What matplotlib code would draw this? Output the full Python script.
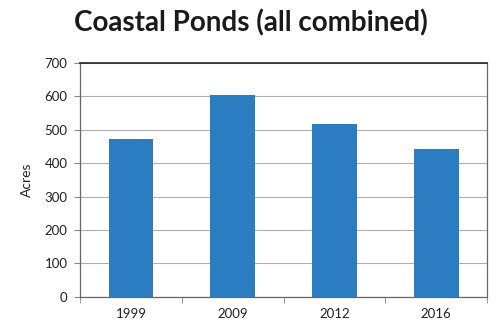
import matplotlib
matplotlib.use("Agg")
import matplotlib.pyplot as plt
import numpy as np

categories = ["1999", "2009", "2012", "2016"]
acres = [472, 605, 518, 441]
yticks = [0, 100, 200, 300, 400, 500, 600, 700]

plt.rcParams['font.family'] = ['Lato', 'DejaVu Sans']

fig = plt.figure(figsize=(4.97, 3.31), dpi=100)
ax = fig.add_axes([0.161, 0.103, 0.819, 0.707])

x = np.arange(len(categories))
ax.bar(x, acres, width=0.44, color="#2b7cc0", zorder=3)
ax.set_xlim(-0.5, len(categories) - 0.5)
ax.set_ylim(0, 700)
ax.set_yticks(yticks)
ax.set_xticks(x)
ax.set_xticklabels(categories, fontsize=9.5, color="#222222")
ax.set_xticks(np.arange(-0.5, len(categories)), minor=True)
ax.tick_params(axis='x', which='major', length=0, pad=8)
ax.tick_params(axis='x', which='minor', length=4, color="#888888")
ax.tick_params(axis='y', length=4, color="#888888", labelsize=9.5, labelcolor="#222222", pad=5)
ax.yaxis.grid(True, color="#b0b0b0", linewidth=0.8, zorder=0)
for s in ax.spines.values():
    s.set_color("#666666")
    s.set_linewidth(0.9)
ax.spines['top'].set_color("#222222")
ax.spines['top'].set_linewidth(1.2)
ax.set_ylabel("Acres", fontsize=10, color="#222222", labelpad=8)

fig.text(0.505, 0.932, "Coastal Ponds (all combined)", ha="center", va="center",
         fontsize=20, fontweight="bold", color="#1a1a1a")

fig.savefig("out.png", dpi=100)
